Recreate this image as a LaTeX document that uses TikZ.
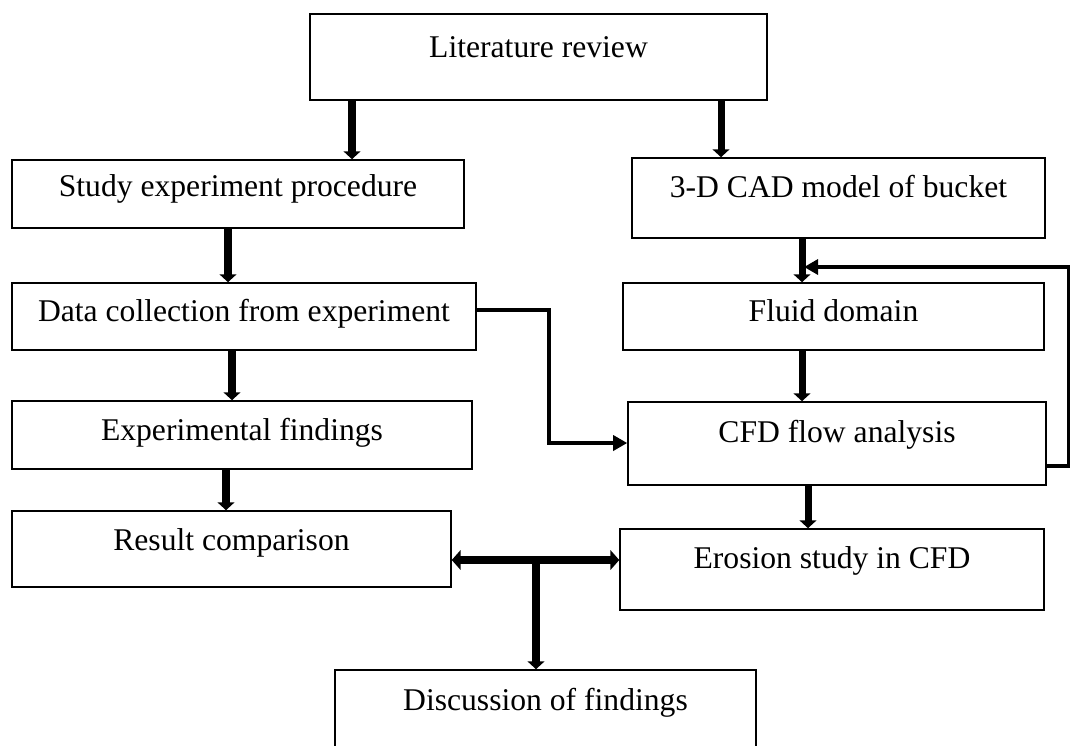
\documentclass[tikz,border=0pt]{standalone}
\usepackage{fontspec}
\setmainfont{Liberation Serif}
\usetikzlibrary{arrows.meta}

\tikzset{
  stepbox/.style={draw, line width=0.9pt, inner sep=0pt, text height=13pt, text depth=4pt,
    font=\fontsize{18}{21}\selectfont},
  flowarrow/.style={line width=4pt, -{Triangle[length=4.5pt,width=9.5pt]}},
  thinarrow/.style={line width=2.2pt, -{Triangle[length=8pt,width=8.5pt]}},
  botharrow/.style={line width=5pt, {Triangle[length=5pt,width=11pt]}-{Triangle[length=5pt,width=11pt]}}
}

\begin{document}
\begin{tikzpicture}[x=0.02cm,y=-0.02cm]

\useasboundingbox (0,0) rectangle (1070,745);
\clip (0,0) rectangle (1070,745);

% Top box
\node[stepbox, minimum width=9.14cm, minimum height=1.72cm, text depth=13pt] (lit) at (538.5,57) {Literature review};

% Experiment side
\node[stepbox, minimum width=9.04cm, minimum height=1.36cm, text depth=9.6pt] (study) at (238,194) {Study experiment procedure};
\node[stepbox, minimum width=9.28cm, minimum height=1.34cm, text depth=6.8pt] (data) at (244,316.5) {Data collection from experiment};
\node[stepbox, minimum width=9.2cm, minimum height=1.36cm, text depth=7.3pt] (exp) at (242,435) {Experimental findings};
\node[stepbox, minimum width=8.78cm, minimum height=1.52cm, text depth=11.8pt] (result) at (231.5,549) {Result comparison};

% CFD side
\node[stepbox, minimum width=8.26cm, minimum height=1.6cm, text depth=14.1pt] (cad) at (838.5,198) {3-D CAD model of bucket};
\node[stepbox, minimum width=8.42cm, minimum height=1.34cm, text depth=6.8pt] (fluid) at (833.5,316.5) {Fluid domain};
\node[stepbox, minimum width=8.36cm, minimum height=1.66cm, text depth=14.7pt] (cfd) at (837,443.5) {CFD flow analysis};
\node[stepbox, minimum width=8.48cm, minimum height=1.62cm, text depth=14.7pt] (erosion) at (832,569.5) {Erosion study in CFD};

% Bottom box
\node[stepbox, minimum width=8.42cm, minimum height=1.8cm, text depth=18.7pt] (disc) at (545.5,715) {Discussion of findings};

% Junctions
\coordinate (split) at (536,560);
\coordinate (merge) at (804,267);

% Vertical arrows
\draw[flowarrow] (lit.south -| 352,0) -- (study.north -| 352,0);
\draw[flowarrow] (lit.south -| 721,0) -- (cad.north -| 721,0);
\draw[flowarrow] (study.south -| 228,0) -- (data.north -| 228,0);
\draw[flowarrow] (data.south -| 232,0) -- (exp.north -| 232,0);
\draw[flowarrow] (exp.south -| 226,0) -- (result.north -| 226,0);
\draw[flowarrow] (cad.south -| 802,0) -- (fluid.north -| 802,0);
\draw[flowarrow] (fluid.south -| 802,0) -- (cfd.north -| 802,0);
\draw[flowarrow] (cfd.south -| 808,0) -- (erosion.north -| 808,0);

% Data to CFD
\draw[thinarrow] (data.east |- 0,310) -| (549,443) -- (cfd.west |- 0,443);

% Feedback loop
\draw[thinarrow] (cfd.east |- 0,466) -| (1069,267) -- (merge);

% Comparison
\draw[botharrow] (result.east |- split) -- (erosion.west |- split);
\draw[flowarrow] (split) -- (disc.north -| split);

\end{tikzpicture}
\end{document}
